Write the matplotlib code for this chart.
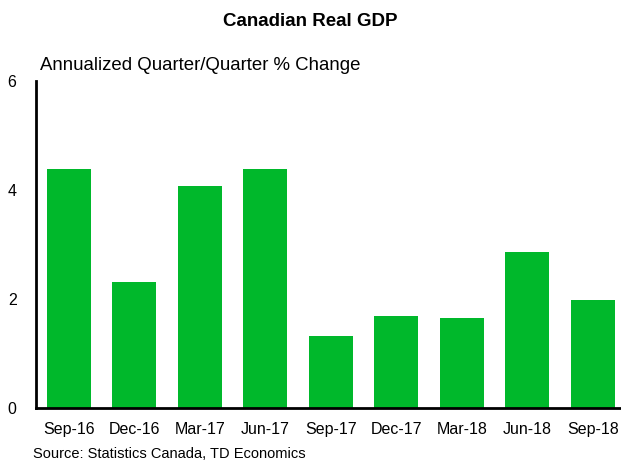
import numpy as np
import matplotlib
matplotlib.use("Agg")
import matplotlib.pyplot as plt

plt.rcParams['font.family'] = ['Liberation Sans', 'DejaVu Sans']

quarters = ["Sep-16", "Dec-16", "Mar-17", "Jun-17", "Sep-17",
            "Dec-17", "Mar-18", "Jun-18", "Sep-18"]
gdp_change = [4.39, 2.32, 4.08, 4.39, 1.32, 1.68, 1.65, 2.87, 1.98]

fig = plt.figure(figsize=(6.21, 4.68), dpi=100)
ax = fig.add_axes([0.058, 0.128, 0.942, 0.699])

x = np.arange(len(quarters))
ax.bar(x, gdp_change, width=0.67, color="#00b82b")

ax.set_xlim(-0.5, 8.43)
ax.set_ylim(0, 6)
ax.set_yticks([0, 2, 4, 6])
ax.set_xticks(x)
ax.set_xticklabels(quarters)
ax.tick_params(axis="both", length=0, labelsize=11.5)
ax.tick_params(axis="x", pad=10)
ax.tick_params(axis="y", pad=14)

for side in ["top", "right"]:
    ax.spines[side].set_visible(False)
ax.spines["left"].set_linewidth(2)
ax.spines["bottom"].set_linewidth(2)

fig.text(0.5, 0.955, "Canadian Real GDP", ha="center", va="center",
         fontsize=13.5, fontweight="bold")
fig.text(0.065, 0.86, "Annualized Quarter/Quarter % Change", ha="left",
         va="center", fontsize=13.4)
fig.text(0.053, 0.015, "Source: Statistics Canada, TD Economics", ha="left",
         va="bottom", fontsize=10.5)

fig.savefig("out.png", dpi=100)
